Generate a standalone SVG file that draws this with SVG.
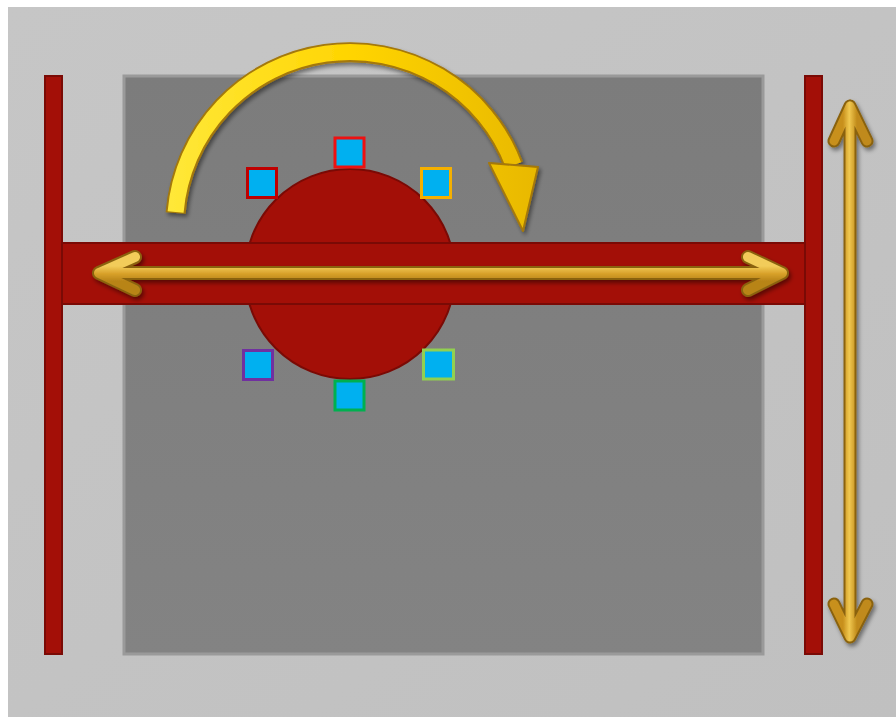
<svg xmlns="http://www.w3.org/2000/svg" width="896" height="719" viewBox="0 0 896 719">
<defs>
<linearGradient id="bg" x1="0" y1="0" x2="1" y2="1">
<stop offset="0" stop-color="#c6c6c6"/>
<stop offset="1" stop-color="#c0c0c0"/>
</linearGradient>
<linearGradient id="panelg" x1="0" y1="0" x2="0" y2="1">
<stop offset="0" stop-color="#7c7c7c"/>
<stop offset="1" stop-color="#838383"/>
</linearGradient>
<linearGradient id="yel" gradientUnits="userSpaceOnUse" x1="170" y1="0" x2="540" y2="0">
<stop offset="0" stop-color="#ffe838"/>
<stop offset="0.5" stop-color="#ffd400"/>
<stop offset="1" stop-color="#e8b800"/>
</linearGradient>
<linearGradient id="goldh" gradientUnits="userSpaceOnUse" x1="0" y1="266" x2="0" y2="281">
<stop offset="0" stop-color="#f2cc5a"/>
<stop offset="0.5" stop-color="#d9a22a"/>
<stop offset="1" stop-color="#b88418"/>
</linearGradient>
<linearGradient id="goldv" gradientUnits="userSpaceOnUse" x1="843" y1="0" x2="857" y2="0">
<stop offset="0" stop-color="#c8901c"/>
<stop offset="0.45" stop-color="#f0c850"/>
<stop offset="1" stop-color="#c08a1a"/>
</linearGradient>
<filter id="sh" filterUnits="userSpaceOnUse" x="0" y="0" width="896" height="719">
<feDropShadow dx="2" dy="3" stdDeviation="2" flood-color="#000" flood-opacity="0.45"/>
</filter>
</defs>
<style>
.red{fill:#a30f07;stroke:#7a0a05;stroke-width:2}
.sq{fill:#00b0f0;stroke-width:3}
.dk{fill:none;stroke:#8a6210;stroke-linecap:round;stroke-linejoin:round}
.gl{fill:none;stroke-linecap:round;stroke-linejoin:round}
</style>
<rect x="0" y="0" width="896" height="719" fill="#ffffff"/>
<rect x="8" y="7" width="888" height="710" fill="url(#bg)"/>
<g id="panel">
<rect x="124" y="76" width="639" height="578" fill="url(#panelg)" stroke="#9a9a9a" stroke-width="3"/>
</g>
<g id="rail-left"><rect class="red" x="45" y="76" width="17" height="578"/></g>
<g id="rail-right"><rect class="red" x="805" y="76" width="17" height="578"/></g>
<g id="hub"><circle class="red" cx="350" cy="274" r="105"/></g>
<g id="beam"><rect class="red" x="62" y="243" width="743" height="61"/></g>
<g id="markers">
<rect id="m-top" class="sq" stroke="#ee1111" x="335" y="138" width="29" height="29"/>
<rect id="m-topleft" class="sq" stroke="#c00000" x="247.5" y="168.5" width="29" height="29"/>
<rect id="m-topright" class="sq" stroke="#f5b000" x="421.5" y="168.5" width="29" height="29"/>
<rect id="m-botleft" class="sq" stroke="#7030a0" x="243.5" y="350.5" width="29" height="29"/>
<rect id="m-botright" class="sq" stroke="#92d050" x="423.5" y="350" width="30" height="29"/>
<rect id="m-bot" class="sq" stroke="#00b050" x="335" y="381" width="29" height="29"/>
</g>
<g id="connectors">
<g id="rotate-arrow" filter="url(#sh)">
<path d="M 175.6 213 A 175 175 0 0 1 513.6 165" fill="none" stroke="#a47808" stroke-width="20"/>
<path d="M 175.6 212 A 175 175 0 0 1 513.6 165" fill="none" stroke="url(#yel)" stroke-width="16"/>
<polygon points="489,163 538,167 523,231" fill="url(#yel)" stroke="#a47808" stroke-width="2" stroke-linejoin="round"/>
</g>
<g id="h-arrow" filter="url(#sh)">
<path class="dk" stroke-width="14" d="M 135 257 L 99 273 L 135 290 M 99 273 L 782 273 M 748 257 L 782 273 L 748 290"/>
<path class="gl" stroke="url(#goldh)" stroke-width="10" d="M 135 257 L 99 273 L 135 290 M 99 273 L 782 273 M 748 257 L 782 273 L 748 290"/>
</g>
<g id="v-arrow" filter="url(#sh)">
<path class="dk" stroke-width="13" d="M 834 141 L 850 106 L 867 141 M 850 106 L 850 637 M 834 604 L 850 637 L 867 604"/>
<path class="gl" stroke="url(#goldv)" stroke-width="9" d="M 834 141 L 850 106 L 867 141 M 850 106 L 850 637 M 834 604 L 850 637 L 867 604"/>
</g>
</g>
</svg>
